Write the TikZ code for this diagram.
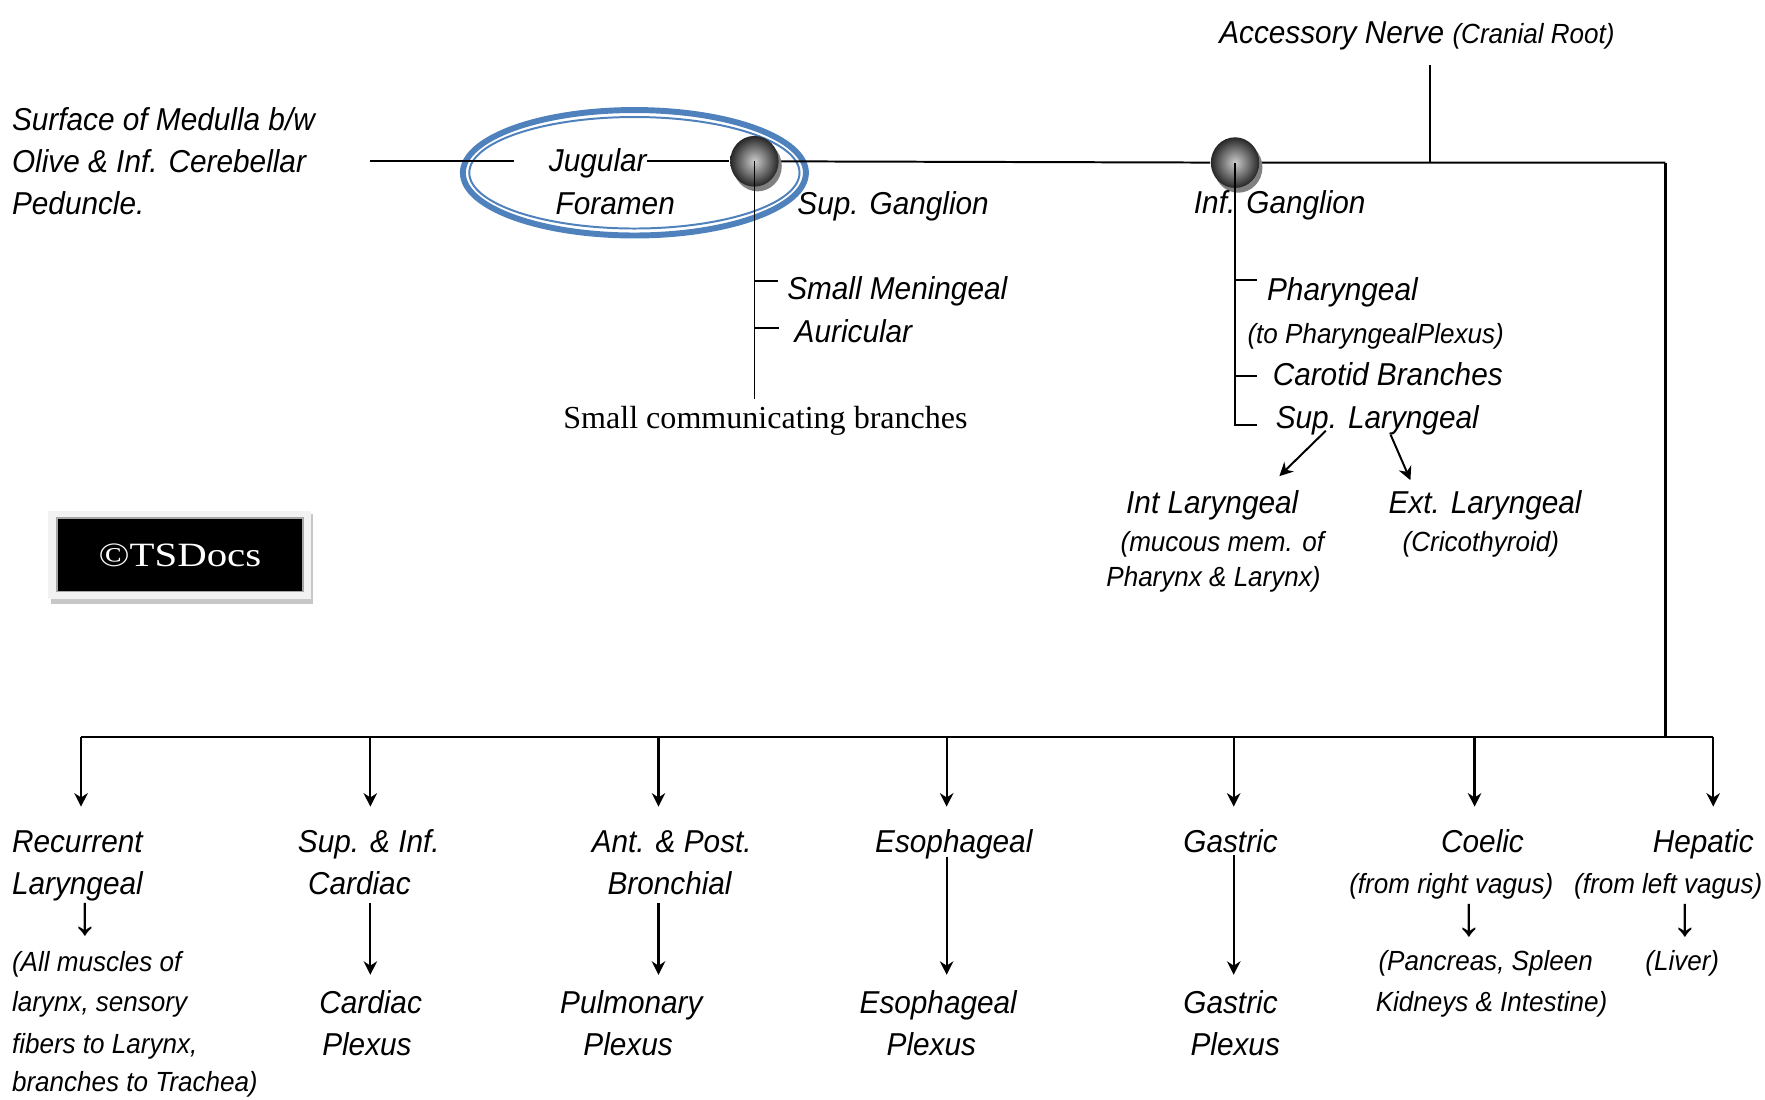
\documentclass[tikz,border=0pt]{standalone}
\usepackage{fontspec}
\usetikzlibrary{arrows.meta,shapes.geometric,shadows,backgrounds}

\newfontfamily\narrowsans{Liberation Sans}[FakeStretch=0.94]
\newfontfamily\plainsans{Liberation Sans}
\newfontfamily\serifface{Liberation Serif}
\newfontfamily\stampface{Liberation Serif}[FakeStretch=1.2]
\newcommand\minortext{\fontsize{7.0}{8.4}\selectfont}

\definecolor{jfblue}{HTML}{4F81BD}

\tikzset{
  lbl/.style={anchor=base west, inner sep=0pt,
    font=\narrowsans\itshape\fontsize{8.0}{9.6}\selectfont},
  sml/.style={anchor=base west, inner sep=0pt,
    font=\narrowsans\itshape\minortext},
  serifnote/.style={anchor=base west, inner sep=0pt,
    font=\serifface\fontsize{8.1}{9.7}\selectfont},
  thinarrow/.style={anchor=base, inner sep=0pt, text height=5pt, text depth=0pt,
    font=\plainsans\fontsize{14}{15}\selectfont},
  wire/.style={line width=0.5pt},
  twig/.style={line width=0.42pt},
  bus/.style={line width=0.55pt},
  tip/.style={-{Stealth[length=3.4pt,width=3.4pt,inset=1.1pt]}},
  down/.style={bus, tip},
  ganglion/.style={ellipse, minimum width=0.43cm, minimum height=0.45cm,
    inner sep=0pt, inner color=black!20, outer color=black!85,
    drop shadow={shadow xshift=0.8pt, shadow yshift=-1.2pt,
      fill=black!50, opacity=1}},
  stamp/.style={fill=black, draw=black!35, line width=0.4pt, text=white,
    minimum width=2.187cm, minimum height=0.652cm, inner sep=0pt,
    font=\stampface\fontsize{8.6}{10}\selectfont}
}

\begin{document}
\begin{tikzpicture}[x=0.01cm, y=-0.01cm]
\useasboundingbox (0,0) rectangle (1568,977);

% ---------- upper part: origin and ganglia ----------
\node[lbl] (med1) at (10,116)   {Surface of Medulla b/w};
\node[lbl] (med2) at (10,153.4) {Olive \& Inf. Cerebellar};
\node[lbl] (med3) at (10,191)   {Peduncle.};

\node[lbl] (jug) at (487,152.5) {Jugular};
\node[lbl] (for) at (493,191)   {Foramen};

\node[ganglion] (g1) at (670.2,143.3) {};
\node[ganglion] (g2) at (1097.2,144.5) {};

\node[lbl] (supg) at (707.7,191)  {Sup. Ganglion};
\node[lbl] (infg) at (1060,189.6) {Inf. Ganglion};

\node[lbl] (acc) at (1082.5,38.6) {Accessory Nerve {\minortext(Cranial Root)}};

\coordinate (lineL)   at (328.9,143.3);
\coordinate (lineR)   at (456.4,143.3);
\coordinate (acctop)  at (1270.4,57.9);
\coordinate (accfoot) at (1270.4,144.5);
\coordinate (corner)  at (1479.6,144.5);

% branches of the superior ganglion
\node[lbl] (smen) at (698.7,266.5) {Small Meningeal};
\node[lbl] (aur)  at (705.3,304)   {Auricular};
\node[serifnote] (comm) at (499.8,380.5) {Small communicating branches};
\coordinate (g1end) at (670.2,354.4);
\coordinate (k1) at (670.2,249.6);
\coordinate (k2) at (670.2,291.7);

% branches of the inferior ganglion
\node[lbl] (phar)   at (1125,266.9)   {Pharyngeal};
\node[sml] (tophar) at (1107.6,305.5) {(to PharyngealPlexus)};
\node[lbl] (carot)  at (1130,342.3)   {Carotid Branches};
\node[lbl] (supl)   at (1132.7,381)   {Sup. Laryngeal};
\coordinate (m1) at (1097.2,248.6);
\coordinate (m2) at (1097.2,334.3);
\coordinate (m3) at (1097.2,377.5);

\node[lbl] (intl)  at (999.8,456.4)  {Int Laryngeal};
\node[sml] (intl2) at (994.8,489.8)  {(mucous mem. of};
\node[sml] (intl3) at (982.2,521.4)  {Pharynx \& Larynx)};
\node[lbl] (extl)  at (1232.9,456.4) {Ext. Laryngeal};
\node[sml] (extl2) at (1245.4,489.8) {(Cricothyroid)};
\coordinate (sl1) at (1177.8,382.7);
\coordinate (il)  at (1136.6,423);
\coordinate (sl2) at (1235.4,386.2);
\coordinate (el)  at (1253,426.6);

% oval and nerve trunk behind the ganglia
\begin{scope}[on background layer]
  \draw[jfblue, line width=1.5pt] (563.6,153.5) ellipse [x radius=1.523cm, y radius=0.557cm];
  \draw[jfblue, line width=0.5pt] (563.6,153.5) ellipse [x radius=1.466cm, y radius=0.495cm];
  \draw[wire] (lineL) -- (lineR);
  \draw[wire] (jug.east |- g1) -- (g1);
  \draw[wire] (g1) -- (g2) -- (accfoot) -- (corner);
\end{scope}

\draw[wire] (acctop) -- (accfoot);

\draw[twig] (g1.center) -- (g1end);
\draw[twig] (k1) -- ++(21,0);
\draw[twig] (k2) -- ++(22,0);

\draw[twig] (g2.center) -- (m3) -- ++(19.4,0);
\draw[twig] (m1) -- ++(19.4,0);
\draw[twig] (m2) -- ++(19.4,0);

\draw[wire, tip] (sl1) -- (il);
\draw[wire, tip] (sl2) -- (el);

% ---------- stamp ----------
\fill[black!22] (45.3,456.6) rectangle (278.3,536.6);
\fill[black!5]  (42.9,454) rectangle (276,532);
\node[stamp] (tsd) at (159.85,493) {©TSDocs};

% ---------- lower part: distribution ----------
\coordinate (busL) at (72,655);
\coordinate (busR) at (1522,655);
\draw[bus] (corner) -- (corner |- busR);
\draw[bus] (busL) -- (busR);

\node[lbl] (rec1) at (10,757.5) {Recurrent};
\node[lbl] (rec2) at (10,795)   {Laryngeal};
\node[thinarrow] (recar) at (75.5,830) {↓};
\node[sml] (rec3) at (10,863)   {(All muscles of};
\node[sml] (rec4) at (10,898.7) {larynx, sensory};
\node[sml] (rec5) at (10,936)   {fibers to Larynx,};
\node[sml] (rec6) at (10,969.8) {branches to Trachea)};

\node[lbl] (car1) at (264,757.5)   {Sup. \& Inf.};
\node[lbl] (car2) at (273,795)     {Cardiac};
\node[lbl] (cp1)  at (283,900)     {Cardiac};
\node[lbl] (cp2)  at (285.6,938)   {Plexus};

\node[lbl] (bro1) at (525,757.5)   {Ant. \& Post.};
\node[lbl] (bro2) at (539,795)     {Bronchial};
\node[lbl] (pp1)  at (497,900)     {Pulmonary};
\node[lbl] (pp2)  at (517.6,938)   {Plexus};

\node[lbl] (eso1) at (776.8,757.5) {Esophageal};
\node[lbl] (ep1)  at (763,900)     {Esophageal};
\node[lbl] (ep2)  at (787,938)     {Plexus};

\node[lbl] (gas1) at (1050.6,757.5) {Gastric};
\node[lbl] (gp1)  at (1050.6,900)   {Gastric};
\node[lbl] (gp2)  at (1057,938)     {Plexus};

\node[lbl] (coe1) at (1279.6,757.5) {Coelic};
\node[sml] (coe2) at (1198,793.6)   {(from right vagus)};
\node[thinarrow] (coear) at (1305,831) {↓};
\node[sml] (coe3) at (1224,862.3)   {(Pancreas, Spleen};
\node[sml] (coe4) at (1221.5,898.7) {Kidneys \& Intestine)};

\node[lbl] (hep1) at (1467.6,757.5) {Hepatic};
\node[sml] (hep2) at (1397.8,793.6) {(from left vagus)};
\node[thinarrow] (hepar) at (1496.8,831) {↓};
\node[sml] (hep3) at (1461,862.3)   {(Liver)};

% taps on the bus and arrow tips
\coordinate (b1) at (72,655);   \coordinate (t1) at (72,716.6);
\coordinate (b2) at (329,655);  \coordinate (t2) at (329,716.6);
\coordinate (b3) at (585,655);  \coordinate (t3) at (585,716.6);
\coordinate (b4) at (841,655);  \coordinate (t4) at (841,716.6);
\coordinate (b5) at (1096,655); \coordinate (t5) at (1096,716.6);
\coordinate (b6) at (1310,655); \coordinate (t6) at (1310,716.6);
\coordinate (b7) at (1522,655); \coordinate (t7) at (1522,716.6);
\foreach \i in {1,...,7} { \draw[down] (b\i) -- (t\i); }

% second-level arrows to the plexuses
\coordinate (s2) at (329,802.5);  \coordinate (e2) at (329,866);
\coordinate (s3) at (585,802.5);  \coordinate (e3) at (585,866);
\coordinate (s4) at (841,761);    \coordinate (e4) at (841,866);
\coordinate (s5) at (1096,760);   \coordinate (e5) at (1096,866);
\foreach \i in {2,...,5} { \draw[down] (s\i) -- (e\i); }

\end{tikzpicture}
\end{document}
